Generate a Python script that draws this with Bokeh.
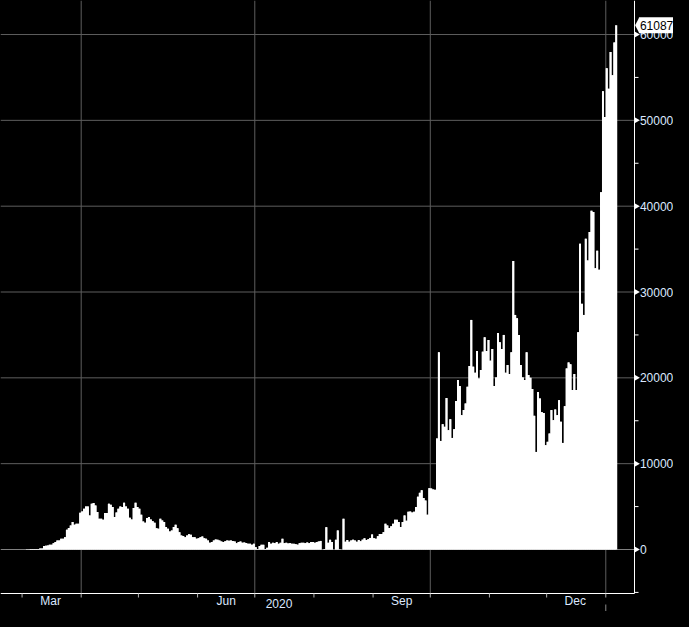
import numpy as np
import pandas as pd
from bokeh.plotting import figure
from bokeh.models import Range1d, GlobalInlineStyleSheet
from bokeh.core.properties import value
from bokeh.embed import file_html
from bokeh.resources import INLINE

# ---------------- data (daily new cases) ----------------
first_day = "2020-02-22"
cases_feb = [2, 0, 4, 2, 1, 2, 5, 3]
cases_mar = [12, 30, 40, 45, 70, 50, 60, 50, 120, 130, 400, 450, 470, 540, 550,
             740, 860, 1050, 1050, 1250, 1250, 1440, 2300, 2500, 2800, 3190,
             2880, 3000, 3000, 4280, 4440]
cases_apr = [4750, 5020, 5020, 3970, 5330, 5410, 5140, 4360, 3580, 3580, 3460,
             4240, 4240, 5330, 5220, 4940, 3780, 4300, 4750, 5020, 4940, 5450,
             5020, 4750, 3700, 3500, 4830, 5450, 4940, 4750]
cases_may = [4050, 3270, 3110, 3660, 3780, 3500, 3300, 3110, 2490, 2410, 3580,
             3390, 3190, 2610, 2410, 2100, 2220, 2610, 2880, 2490, 2020, 1630,
             1560, 1440, 1630, 1790, 1710, 1440, 1440, 1250, 1320]
cases_jun = [1440, 1520, 1320, 1250, 1050, 780, 860, 1050, 1170, 1130, 1050, 930,
             860, 970, 1050, 1010, 1050, 1000, 930, 740, 860, 930, 780, 820, 750,
             660, 660, 560, 660, 270]
cases_jul = [60, 400, 545, 545, 60, 200, 860, 660, 780, 740, 860, 660, 780, 1250,
             740, 780, 700, 740, 660, 660, 620, 560, 740, 780, 780, 740, 820, 740,
             860, 860, 780]
cases_aug = [860, 930, 1000, 0, 60, 2600, 780, 1130, 860, 0, 1130, 2220, 40, 0,
             3580, 900, 1100, 900, 1050, 1150, 1050, 900, 1100, 950, 1150, 1300,
             1100, 1200, 1350, 1750, 1300]
cases_sep = [1250, 1550, 1800, 1800, 2020, 3000, 2800, 2500, 2700, 3000, 3460,
             3460, 3190, 2610, 3190, 3970, 3350, 4400, 4420, 4300, 4400, 4940,
             6150, 6600, 6900, 6000, 5700, 4050, 7150, 7100]
cases_oct = [7000, 6950, 12930, 22970, 12650, 14600, 14290, 17640, 13900, 15180,
             13000, 14020, 17290, 19740, 19040, 15650, 16240, 17010, 18960, 21370,
             26750, 21300, 20590, 23130, 19930, 20910, 23050, 24720, 23130, 24410,
             22000]
cases_nov = [23360, 19040, 20050, 25230, 24140, 23360, 25000, 20590, 21490, 20440,
             22970, 33600, 27330, 26940, 25000, 21490, 20050, 19740, 22970, 20320,
             20000, 18690, 15570, 11370, 18340, 17600, 16000, 15900, 12150, 12540]
cases_dec = [13510, 16240, 15070, 16310, 15650, 17400, 14870, 12420, 16700, 21100,
             21800, 21570, 18570, 20440, 18570, 25310, 35620, 28620, 27330, 36200,
             33680, 36990, 39480, 39320, 32780, 34810, 32590, 41620, 53380, 50380,
             56060]
cases_jan = [53690, 57970, 55250, 59060, 61087]

y_ticks = [0, 10000, 20000, 30000, 40000, 50000, 60000]
y_tick_labels = ["0", "10000", "20000", "30000", "40000", "50000", "60000"]
y_minor_ticks = [-5000, 5000, 15000, 25000, 35000, 45000, 55000]
month_labels = ["Mar", "Jun", "Sep", "Dec"]
month_label_dates = ["2020-03-16", "2020-06-16", "2020-09-16", "2020-12-16"]
grid_dates = ["2020-04-01", "2020-07-01", "2020-10-01", "2021-01-01"]
year_label = "2020"
year_break = "2021-01-01"
last_label = "61087"

# ---------------- geometry ----------------
epoch = pd.Timestamp("2020-01-01")


def dnum(s):
    return (pd.Timestamp(s) - epoch).days


cases = (cases_feb + cases_mar + cases_apr + cases_may + cases_jun + cases_jul +
         cases_aug + cases_sep + cases_oct + cases_nov + cases_dec + cases_jan)
dates = pd.date_range(first_day, periods=len(cases), freq="D")
days = np.asarray((dates - epoch).days, dtype=float)

W, H = 673, 611
PX_DAY = 1.9076          # pixels per day
PX_UNIT = 85.83 / 10000  # pixels per case
REF_X = 80.7             # x pixel of 2020-04-01
ZERO_Y = 549.0           # y pixel of 0


def xpx(px):
    return 91 + (px - REF_X) / PX_DAY


def ypx(py):
    return (ZERO_Y - py) / PX_UNIT


X0, X1 = xpx(0), xpx(W)
Y0, Y1 = ypx(H), ypx(0)
axis_x = xpx(634)
axis_y = ypx(593)

GRID = "#5e5e5e"
LBL = "#dce8ff"
FONT = "Liberation Sans"

p = figure(frame_width=W, frame_height=H,
           x_range=Range1d(X0, X1), y_range=Range1d(Y0, Y1),
           x_axis_location=None, y_axis_location=None,
           output_backend="svg", toolbar_location=None, min_border=0,
           background_fill_color="black", border_fill_color="black",
           outline_line_color=None)
p.stylesheets = [GlobalInlineStyleSheet(css="html, body { background: #000; }")]
p.xgrid.visible = False
p.ygrid.visible = False

# grid lines
hg = [t for t in y_ticks if t != 0]
p.segment(x0=[X0] * len(hg), x1=[axis_x] * len(hg), y0=hg, y1=hg,
          line_color=GRID, line_width=1, level="underlay")
gx = [dnum(d) for d in grid_dates]
p.segment(x0=gx, x1=gx, y0=[axis_y] * len(gx), y1=[Y1] * len(gx),
          line_color=GRID, line_width=1, level="underlay")
p.segment(x0=[X0], x1=[axis_x], y0=[0], y1=[0], line_color="#808080",
          line_width=1, level="underlay")

# bars: a stepped fill underneath keeps neighbouring bars seamless
bar_x = days + 1.5
p.varea_step(x=bar_x, y1=np.zeros(len(cases)), y2=cases, step_mode="center",
             fill_color="white")
p.vbar(x=bar_x, top=cases, bottom=0, width=1.0,
       fill_color="white", line_color=None)

# axis lines
p.segment(x0=[X0], x1=[axis_x], y0=[axis_y], y1=[axis_y], line_color="white", line_width=1)
p.segment(x0=[axis_x], x1=[axis_x], y0=[axis_y], y1=[Y1], line_color="white", line_width=1)

# month ticks and year separator
ms = pd.date_range("2020-03-01", "2021-01-01", freq="MS")
mx = [dnum(m) for m in ms]
p.segment(x0=mx, x1=mx, y0=[axis_y] * len(mx), y1=[ypx(597)] * len(mx),
          line_color="#b0b0b0", line_width=1)
yb = dnum(year_break)
p.segment(x0=[yb], x1=[yb], y0=[ypx(604)], y1=[Y0], line_color="#8a8a8a", line_width=1)

# right-axis tick marks
p.scatter(x=[xpx(635.6)] * len(y_ticks), y=y_ticks, marker="triangle",
          angle=-np.pi / 2, size=6.5, fill_color="white", line_color=None)
mt = [t for t in y_minor_ticks if t > axis_y]
p.segment(x0=[axis_x] * len(mt), x1=[xpx(638)] * len(mt),
          y0=mt, y1=mt, line_color="white", line_width=1)

# right-axis labels
p.text(x=[xpx(639.4)] * len(y_ticks), y=y_ticks, text=y_tick_labels,
       text_align="left", text_baseline="middle", text_color=LBL,
       text_font=value(FONT), text_font_size="12px")

# month / year labels
p.text(x=[dnum(d) for d in month_label_dates], y=[ypx(600.5)] * len(month_labels),
       text=month_labels, text_align="center", text_baseline="middle",
       text_color=LBL, text_font=value(FONT), text_font_size="12px")
p.text(x=[xpx(278.5)], y=[ypx(602.5)], text=[year_label], text_align="center",
       text_baseline="middle", text_color=LBL, text_font=value(FONT),
       text_font_size="12px")

# last value callout
last = cases[-1]
half = 7.5 / PX_UNIT
p.quad(left=[xpx(638.4)], right=[X1], top=[last + half + 0.5 / PX_UNIT],
       bottom=[last - half - 0.5 / PX_UNIT], fill_color="white", line_color=None)
p.patch(x=[xpx(634.6), xpx(638.6), xpx(638.6)], y=[last, last + half, last - half],
        fill_color="white", line_color=None)
p.text(x=[xpx(639.4)], y=[last], text=[last_label], text_align="left",
       text_baseline="middle", text_color="black", text_font=value(FONT),
       text_font_size="12px")

open("out.html", "w").write(file_html(p, INLINE))
